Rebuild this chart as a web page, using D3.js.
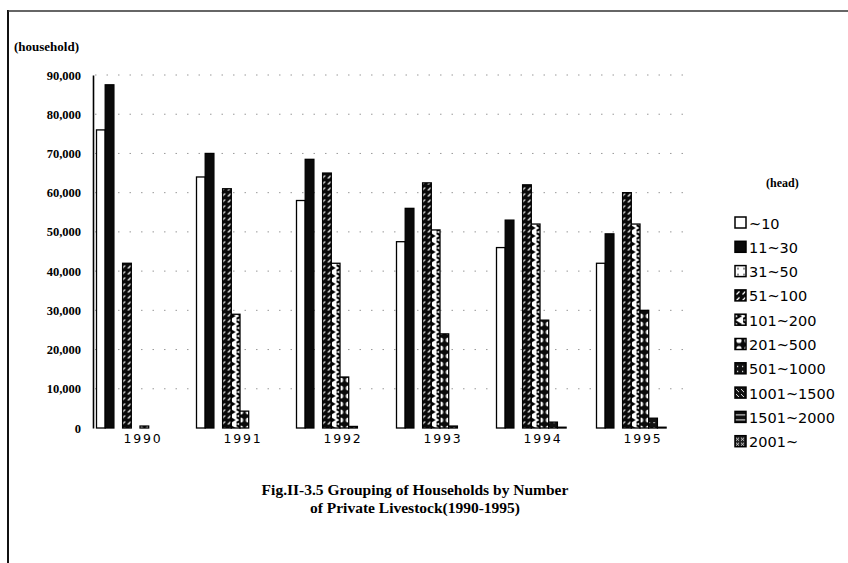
<!DOCTYPE html>
<html>
<head>
<meta charset="utf-8">
<script src="https://cdn.jsdelivr.net/npm/d3@7"></script>
<style>
  html, body { margin: 0; padding: 0; background: #fff; }
  svg { display: block; }
</style>
</head>
<body>
<svg id="chart" width="848" height="563"></svg>
<script>
// ---- data ----
const years = ["1990", "1991", "1992", "1993", "1994", "1995"];
const seriesNames = ["~10", "11~30", "31~50", "51~100", "101~200", "201~500", "501~1000", "1001~1500", "1501~2000", "2001~"];
const s_10      = [76000, 64000, 58000, 47500, 46000, 42000];
const s_11_30   = [87500, 70000, 68500, 56000, 53000, 49500];
const s_31_50   = [0, 0, 0, 0, 0, 0];
const s_51_100  = [42000, 61000, 65000, 62500, 62000, 60000];
const s_101_200 = [0, 29000, 42000, 50500, 52000, 52000];
const s_201_500 = [500, 4300, 13000, 24000, 27500, 30000];
const s_501_1000 = [0, 0, 400, 500, 1500, 2500];
const s_1001_1500 = [0, 0, 0, 0, 200, 200];
const s_1501_2000 = [0, 0, 0, 0, 0, 0];
const s_2001 = [0, 0, 0, 0, 0, 0];
const seriesValues = [s_10, s_11_30, s_31_50, s_51_100, s_101_200, s_201_500, s_501_1000, s_1001_1500, s_1501_2000, s_2001];
const yTicks = [0, 10000, 20000, 30000, 40000, 50000, 60000, 70000, 80000, 90000];
const yLabel = "(household)";
const legendTitle = "(head)";
const titleLines = ["Fig.II-3.5 Grouping of Households by Number", "of Private Livestock(1990-1995)"];

// ---- drawing ----
const svg = d3.select("#chart");
const defs = svg.append("defs");

function pattern(id, w, h, draw) {
  const p = defs.append("pattern").attr("id", id).attr("patternUnits", "userSpaceOnUse")
    .attr("width", w).attr("height", h);
  draw(p);
}
pattern("p0", 4, 4, p => p.append("rect").attr("width", 4).attr("height", 4).attr("fill", "#fff"));
pattern("p1", 4, 4, p => p.append("rect").attr("width", 4).attr("height", 4).attr("fill", "#0a0a0a"));
pattern("p2", 6, 6, p => {
  p.append("rect").attr("width", 6).attr("height", 6).attr("fill", "#fff");
  p.append("circle").attr("cx", 3).attr("cy", 3).attr("r", 0.8).attr("fill", "#000");
});
pattern("p3", 6, 6, p => {
  p.append("rect").attr("width", 6).attr("height", 6).attr("fill", "#0a0a0a");
  p.append("path").attr("d", "M1.5,4.5 L4.5,1.5").attr("stroke", "#fff").attr("stroke-width", 1.3);
});
pattern("p4", 8, 8, p => {
  p.append("rect").attr("width", 8).attr("height", 8).attr("fill", "#fff");
  p.append("path").attr("d", "M0,1 L5,4 L0,7").attr("stroke", "#000").attr("stroke-width", 2.2).attr("fill", "none");
});
pattern("p5", 8, 8, p => {
  p.append("rect").attr("width", 8).attr("height", 8).attr("fill", "#0a0a0a");
  p.append("circle").attr("cx", 4).attr("cy", 4).attr("r", 2.6).attr("fill", "#fff");
});
pattern("p6", 5, 5, p => {
  p.append("rect").attr("width", 5).attr("height", 5).attr("fill", "#111");
  p.append("rect").attr("x", 2).attr("y", 2).attr("width", 1.2).attr("height", 1.2).attr("fill", "#fff");
});
pattern("p7", 5, 5, p => {
  p.append("rect").attr("width", 5).attr("height", 5).attr("fill", "#111");
  p.append("path").attr("d", "M1,1 L4,4").attr("stroke", "#fff").attr("stroke-width", 0.9);
});
pattern("p8", 5, 5, p => {
  p.append("rect").attr("width", 5).attr("height", 5).attr("fill", "#111");
  p.append("path").attr("d", "M0,2.5 L5,2.5").attr("stroke", "#fff").attr("stroke-width", 0.9);
});
pattern("p9", 5, 5, p => {
  p.append("rect").attr("width", 5).attr("height", 5).attr("fill", "#222");
  p.append("path").attr("d", "M1,4 L4,1 M1,1 L4,4").attr("stroke", "#fff").attr("stroke-width", 0.8);
});

// frame lines of the scanned page
svg.append("line").attr("x1", 8).attr("x2", 8).attr("y1", 10).attr("y2", 563)
  .attr("stroke", "#111").attr("stroke-width", 2);
svg.append("line").attr("x1", 8).attr("x2", 848).attr("y1", 11).attr("y2", 11)
  .attr("stroke", "#333").attr("stroke-width", 1.5);

const y = d3.scaleLinear().domain([0, 90000]).range([428, 75]);
const x0 = d3.scaleBand().domain(years).range([90, 690]).paddingInner(0.13).paddingOuter(0.065);
const x1 = d3.scaleBand().domain(d3.range(seriesNames.length)).range([0, x0.bandwidth()]);

// gridlines
svg.append("g").selectAll("line").data(yTicks.filter(d => d > 0)).join("line")
  .attr("x1", 95).attr("x2", 690)
  .attr("y1", d => y(d)).attr("y2", d => y(d))
  .attr("stroke", "#999").attr("stroke-width", 1).attr("stroke-dasharray", "1.5,10");

// y axis
const yAxis = d3.axisLeft(y).tickValues(yTicks).tickSize(0).tickPadding(12)
  .tickFormat(d3.format(","));
const gy = svg.append("g").attr("transform", "translate(93,0)").call(yAxis);
gy.select(".domain").attr("stroke", "#000").attr("stroke-width", 1.6);
gy.selectAll("text").attr("font-family", "Liberation Serif, serif").attr("font-size", 12.5)
  .attr("fill", "#000").attr("font-weight", "bold");

svg.append("text").attr("x", 14).attr("y", 51).text(yLabel)
  .attr("font-family", "Liberation Serif, serif").attr("font-size", 13).attr("font-weight", "bold");

// bars
const groups = svg.append("g").selectAll("g").data(years).join("g")
  .attr("transform", d => `translate(${x0(d)},0)`);
groups.selectAll("rect").data((d, i) => seriesValues.map((s, k) => ({ k, v: s[i] })).filter(e => e.v > 0))
  .join("rect")
  .attr("x", e => x1(e.k))
  .attr("width", x1.bandwidth())
  .attr("y", e => y(e.v))
  .attr("height", e => y(0) - y(e.v))
  .attr("fill", e => `url(#p${e.k})`)
  .attr("stroke", "#000").attr("stroke-width", 1.3);

// x labels
const xAxis = d3.axisBottom(x0).tickSize(0).tickPadding(6);
const gx = svg.append("g").attr("transform", "translate(3,428)").call(xAxis);
gx.select(".domain").remove();
gx.selectAll("text").attr("font-family", "DejaVu Sans, sans-serif").attr("font-size", 12.5)
  .attr("fill", "#000").attr("letter-spacing", 1.8);

// legend
svg.append("text").attr("x", 766).attr("y", 187).text(legendTitle)
  .attr("font-family", "Liberation Serif, serif").attr("font-size", 12).attr("font-weight", "bold");
const legend = svg.append("g").selectAll("g").data(seriesNames).join("g")
  .attr("transform", (d, i) => `translate(735,${223 + i * 24.3})`);
legend.append("rect").attr("x", 0).attr("y", -6).attr("width", 11).attr("height", 11)
  .attr("fill", (d, i) => `url(#p${i})`).attr("stroke", "#000").attr("stroke-width", 1.5);
legend.append("text").attr("x", 14).attr("y", 5.5).text(d => d)
  .attr("font-family", "DejaVu Sans, sans-serif").attr("font-size", 14.5);

// title
svg.append("g").selectAll("text").data(titleLines).join("text")
  .attr("x", 415).attr("y", (d, i) => 495 + i * 18)
  .attr("text-anchor", "middle").text(d => d)
  .attr("font-family", "Liberation Serif, serif").attr("font-size", 15.5).attr("font-weight", "bold");
</script>
</body>
</html>
